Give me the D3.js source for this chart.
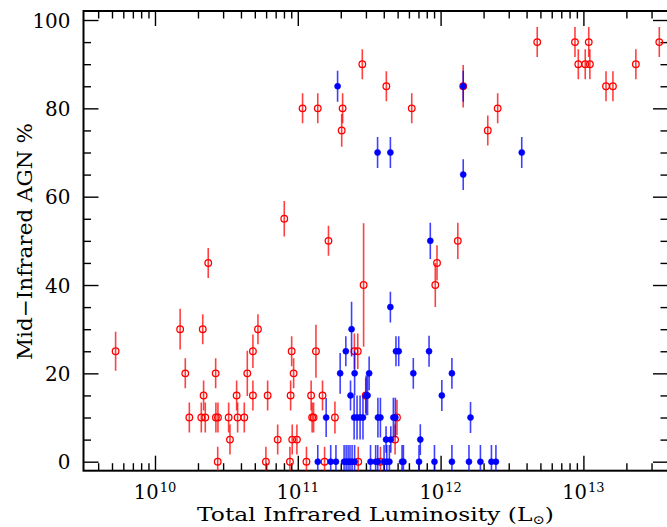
<!DOCTYPE html>
<html><head><meta charset="utf-8">
<script src="https://cdn.jsdelivr.net/npm/d3@7"></script>
<style>body{margin:0;background:#fff}svg{display:block}</style>
</head><body><svg id="c" width="667" height="527"></svg>
<script>
// Red (open circles) sample
const redL=[5.3e9,1.50e10,1.63e10,1.74e10,2.11e10,2.16e10,2.19e10,2.25e10,2.36e10,2.66e10,2.67e10,2.76e10,2.75e10,3.28e10,3.35e10,3.73e10,3.79e10,4.22e10,4.43e10,4.85e10,4.85e10,5.26e10,5.98e10,6.15e10,7.23e10,8.04e10,8.81e10,8.91e10,9.06e10,9.14e10,9.35e10,9.86e10,1.08e11,1.15e11,1.24e11,1.26e11,1.29e11,1.34e11,1.38e11,1.49e11,1.54e11,1.64e11,1.82e11,2.03e11,2.06e11,2.49e11,2.63e11,2.65e11,2.83e11,2.89e11,2.99e11,3.79e11,4.17e11,4.80e11,4.95e11,6.28e11,9.18e11,9.44e11,1.32e12,1.44e12,2.14e12,2.51e12,4.75e12,8.73e12,9.21e12,1.03e13,1.09e13,1.11e13,1.44e13,1.61e13,2.33e13,3.40e13];
const redPct=[25,30,20,10,10,30,15,10,45,20,10,10,0,10,5,15,10,10,20,25,15,30,0,15,5,55,0,15,25,5,20,5,80,0,15,10,10,25,80,15,0,50,10,75,80,25,25,0,90,40,15,0,85,5,10,80,40,45,50,85,75,80,95,95,90,90,95,90,85,85,90,95];
const redErr=[4.4,4.6,3.4,3.4,3.4,3.4,3.4,3.4,3.4,3.4,3.4,3.4,3.4,3.4,3.4,3.4,3.4,3.4,5.1,3.8,3.4,3.4,3.4,3.4,3.4,4,3.4,3.4,3.4,3.4,3.4,3.4,3.4,3.4,3.4,3.4,3.4,6,3.4,3.4,3.4,3.4,3.6,3.7,3.4,4,4,3.4,3.4,14,4,3.4,3.4,3.4,4,3.4,5,4,4.1,4.8,3.4,3.4,3.4,3.4,3.4,3.4,3.4,3.4,3.4,3.4,3.4,3.4];
// Blue (filled circles) sample
const blueL=[1.90e11,1.44e12,3.62e11,4.45e11,3.70e12,1.44e12,8.47e11,4.45e11,2.38e11,2.17e11,4.87e11,5.09e11,8.30e11,1.98e11,2.50e11,3.16e11,6.44e11,1.20e12,2.34e11,3.01e11,3.08e11,1.02e12,1.58e11,2.48e11,2.60e11,2.73e11,2.86e11,3.64e11,3.79e11,4.67e11,4.82e11,1.62e12,4.15e11,4.48e11,7.21e11,1.38e11,1.70e11,1.85e11,2.11e11,2.18e11,2.25e11,2.32e11,2.40e11,2.50e11,3.23e11,3.51e11,3.63e11,4.02e11,4.20e11,4.38e11,5.37e11,5.49e11,7.06e11,9.06e11,1.20e12,1.58e12,1.90e12,2.27e12,2.44e12];
const bluePct=[85,85,70,70,70,65,50,35,30,25,25,25,25,20,20,20,20,20,15,15,15,15,10,10,10,10,10,10,10,10,10,10,5,5,5,0,0,0,0,0,0,0,0,0,0,0,0,0,0,0,0,0,0,0,0,0,0,0,0];
const blueErr=[3.5,3.5,3.5,3.5,3.5,3.5,4.1,3.5,6.2,3.4,3.4,3.4,3.5,4.6,5,3.8,3.5,3.5,3.4,4.5,4.5,3.5,4.4,5,5,5,5,4.5,4.5,4.5,4.5,3.5,3,3,3.5,3.8,3.8,3.8,3.8,3.8,3.8,3.8,3.8,3.8,3.8,3.8,3.8,3.8,3.8,3.8,3.8,3.8,3.8,3.8,3.8,3.8,3.8,3.8,3.8];
// Axes
const xDomain=[3.158e9,3.912e13];
const yDomain=[-2.04,102.04];
const xMajor=[1e10,1e11,1e12,1e13];
const xMajorExp=["10","11","12","13"];
const yMajor=[0,20,40,60,80,100];
const yMinor=[5,10,15,25,30,35,45,50,55,65,70,75,85,90,95];
const xTitle="Total Infrared Luminosity (L";
const xTitleSub="\u2299";
const yTitle="Mid\u2212Infrared AGN %";

const svg=d3.select("#c");
const FONT="DejaVu Serif";
const L=83.5,R=668,T=11,B=470.7;
const x=d3.scaleLog().domain(xDomain).range([L,R]);
const y=d3.scaleLinear().domain(yDomain).range([B,T]);

const xMinor=[];
for(let e=9;e<=13;e++)for(let k=2;k<=9;k++){const v=k*Math.pow(10,e);if(v>xDomain[0]&&v<xDomain[1])xMinor.push(v);}

svg.append("clipPath").attr("id","clip").append("rect").attr("x",L).attr("y",T).attr("width",R-L).attr("height",B-T);

function ax(gen,tx,ty,vals,size){
  const g=svg.append("g").attr("transform",`translate(${tx},${ty})`).call(gen.tickValues(vals).tickSize(size).tickFormat(""));
  g.select(".domain").remove();
  g.selectAll("line").attr("stroke","#000").attr("stroke-width",1.4);
  return g;
}
ax(d3.axisBottom(x),0,B,xMajor,-15);
ax(d3.axisBottom(x),0,B,xMinor,-7.5);
ax(d3.axisTop(x),0,T,xMajor,-15);
ax(d3.axisTop(x),0,T,xMinor,-7.5);
const gl=svg.append("g").attr("transform",`translate(${L},0)`).call(d3.axisLeft(y).tickValues(yMajor).tickSize(-15).tickPadding(13).tickFormat(d3.format("d")));
gl.select(".domain").remove();
gl.selectAll("line").attr("stroke","#000").attr("stroke-width",1.4);
gl.selectAll("text").attr("font-family",FONT).attr("font-size",20).attr("fill","#000").attr("dy","0.36em")
  .attr("textLength",function(d){return String(d).length*12.7;}).attr("lengthAdjust","spacingAndGlyphs");
ax(d3.axisLeft(y),L,0,yMinor,-7.5);
ax(d3.axisRight(y),R,0,yMajor,-15);
ax(d3.axisRight(y),R,0,yMinor,-7.5);

// x tick labels with exponents
xMajor.forEach((v,i)=>{
  const t=svg.append("text").attr("x",x(v)).attr("y",498.5).attr("text-anchor","middle")
    .attr("font-family",FONT).attr("font-size",19.5).attr("fill","#000");
  t.append("tspan").text("10");
  t.append("tspan").attr("font-size",13).attr("dy",-7).attr("dx",1).text(xMajorExp[i]);
});

// frame
svg.append("rect").attr("x",L).attr("y",T).attr("width",R-L).attr("height",B-T)
  .attr("fill","none").attr("stroke","#000").attr("stroke-width",2);

// titles
const xt=svg.append("text").attr("x",197).attr("y",521).attr("text-anchor","start")
  .attr("font-family",FONT).attr("font-size",19).attr("fill","#000")
  .attr("textLength",357).attr("lengthAdjust","spacingAndGlyphs");
xt.append("tspan").text(xTitle);
xt.append("tspan").attr("font-size",12).attr("dy",3).text(xTitleSub);
xt.append("tspan").attr("dy",-3).text(")");
svg.append("text").attr("transform","translate(32,241.5) rotate(-90)").attr("text-anchor","middle")
  .attr("font-family",FONT).attr("font-size",20.5).attr("fill","#000")
  .attr("textLength",237).attr("lengthAdjust","spacingAndGlyphs").text(yTitle);

// data
const plot=svg.append("g").attr("clip-path","url(#clip)");
const red=redL.map((v,i)=>({L:v,p:redPct[i],e:redErr[i]}));
const blue=blueL.map((v,i)=>({L:v,p:bluePct[i],e:blueErr[i]}));
function draw(data,col,filled){
  const g=plot.append("g");
  g.selectAll("line").data(data).join("line")
    .attr("x1",d=>x(d.L)).attr("x2",d=>x(d.L))
    .attr("y1",d=>y(d.p-d.e)).attr("y2",d=>y(d.p+d.e))
    .attr("stroke",col).attr("stroke-width",1.6).attr("stroke-opacity",0.75);
  g.selectAll("circle").data(data).join("circle")
    .attr("cx",d=>x(d.L)).attr("cy",d=>y(d.p))
    .attr("r",filled?3:3.3)
    .attr("fill",filled?col:"none").attr("stroke",col).attr("stroke-width",filled?0.6:1.3);
}
draw(red,"#ff0000",false);
draw(blue,"#0000ff",true);
</script></body></html>
